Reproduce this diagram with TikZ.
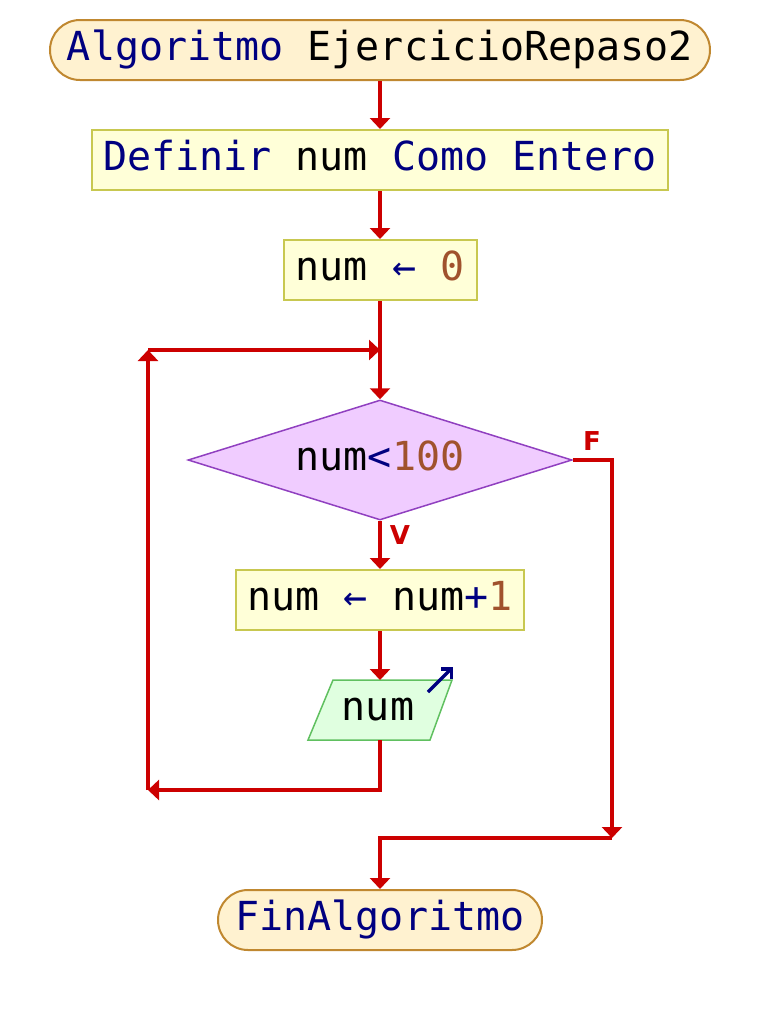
\documentclass[tikz,border=0pt]{standalone}
\usepackage{fontspec}
\setmainfont{DejaVu Sans Mono}
\newfontfamily\lblfont{DejaVu Sans}
\usetikzlibrary{arrows.meta,shapes.geometric}
\definecolor{flow}{RGB}{204,0,0}
\definecolor{kw}{RGB}{0,0,128}
\definecolor{numc}{RGB}{160,82,45}
\definecolor{termfill}{RGB}{255,242,208}
\definecolor{termdraw}{RGB}{192,136,48}
\definecolor{boxfill}{RGB}{255,255,216}
\definecolor{boxdraw}{RGB}{200,200,80}
\definecolor{condfill}{RGB}{240,204,255}
\definecolor{conddraw}{RGB}{144,64,192}
\definecolor{outfill}{RGB}{224,255,224}
\definecolor{outdraw}{RGB}{96,192,96}
\tikzset{
  txt/.style={font=\fontsize{40}{40}\selectfont, inner sep=0pt, text height=30pt, text depth=9pt},
  term/.style={txt, draw=termdraw, fill=termfill, line width=2pt, rounded corners=30pt, minimum height=60pt},
  procbox/.style={txt, draw=boxdraw, fill=boxfill, line width=2pt, minimum height=60pt},
  cond/.style={txt, diamond, shape aspect=3.2, draw=conddraw, fill=condfill, line width=1.5pt, minimum width=384pt, minimum height=120pt},
  flowline/.style={draw=flow, line width=4pt},
  arr/.style={flowline, -{Triangle[width=20pt,length=11pt]}},
  lbl/.style={text=flow, font=\lblfont\bfseries\fontsize{26}{26}\selectfont, inner sep=0pt},
}
\begin{document}
\begin{tikzpicture}[x=1pt,y=-1pt]
\useasboundingbox (0,0) rectangle (760,1020);
% nodes
\node[term, minimum width=660pt] (start) at (380,50) {{\color{kw}Algoritmo} EjercicioRepaso2};
\node[procbox, minimum width=576pt] (def) at (380,160) {{\color{kw}Definir} num {\color{kw}Como Entero}};
\node[procbox, minimum width=193pt] (init) at (380,270) {num {\color{kw}←} {\color{numc}0}};
\node[cond] (c) at (380,460) {num{\color{kw}<}{\color{numc}100}};
\node[procbox, minimum width=288pt] (inc) at (380,600) {num {\color{kw}←} num{\color{kw}+}{\color{numc}1}};
% output parallelogram
\coordinate (o1) at (333,680);
\coordinate (o2) at (452,680);
\coordinate (o3) at (430,740);
\coordinate (o4) at (308,740);
\coordinate (outT) at (380,680);
\coordinate (outB) at (380,740);
\draw[draw=outdraw, fill=outfill, line width=1.5pt] (o1) -- (o2) -- (o3) -- (o4) -- cycle;
\node[txt] (out) at (378,710) {num};
\coordinate (ar1) at (428,692);
\coordinate (ar2) at (453,667);
\draw[kw, line width=3.5pt, -{Straight Barb[width=14pt,length=7pt]}] (ar1) -- (ar2);
\node[term, minimum width=324pt] (fin) at (380,920) {{\color{kw}FinAlgoritmo}};
% labels
\node[lbl] (lf) at (592,441) {F};
\node[lbl] (lv) at (400,535) {V};
% coordinates for connectors
\coordinate (merge) at (380,350);
\coordinate (loopTL) at (148,350);
\coordinate (loopBL) at (148,790);
\coordinate (loopB) at (380,790);
\coordinate (fTR) at (612,460);
\coordinate (fBR) at (612,838);
\coordinate (fBM) at (380,838);
% connectors
\draw[arr] (start.south) -- (def.north);
\draw[arr] (def.south) -- (init.north);
\draw[arr] (init.south) -- (c.north);
\draw[arr] (c.south) -- (inc.north);
\draw[arr] (inc.south) -- (outT);
\draw[arr] (outB) -- (loopB) -- (loopBL);
\draw[arr] (loopBL) -- (loopTL);
\draw[arr] (loopTL) -- (merge);
\draw[arr] (c.east) -- (fTR) -- (fBR);
\draw[arr] (fBR) -- (fBM) -- (fin.north);
\end{tikzpicture}
\end{document}
